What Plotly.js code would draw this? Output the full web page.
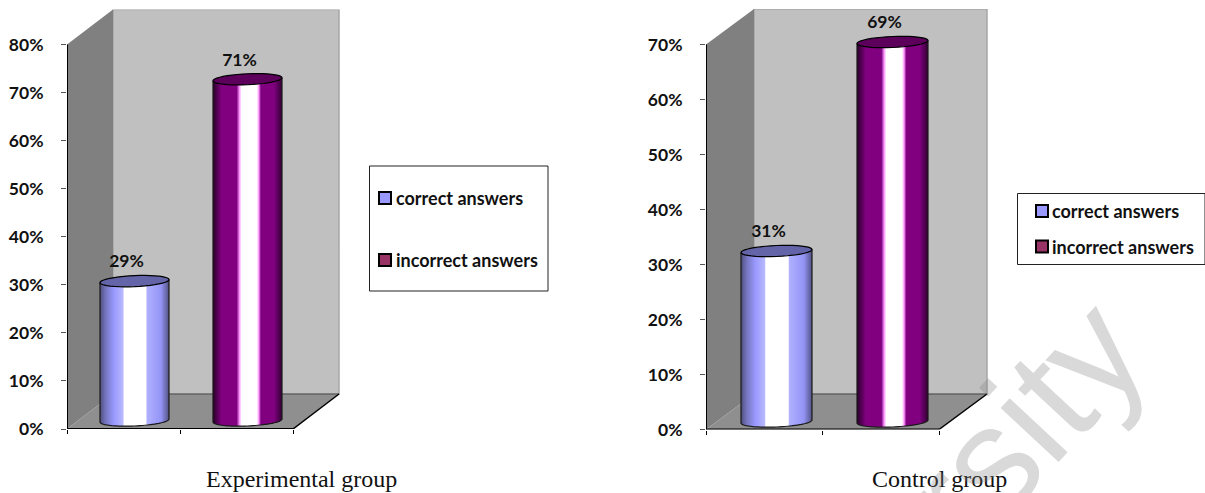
<!DOCTYPE html>
<html><head><meta charset="utf-8">
<script src="https://cdn.plot.ly/plotly-3.0.1.min.js"></script>
<style>html,body{margin:0;padding:0;background:#fff;overflow:hidden}</style>
</head><body><div id="chart" style="width:1205px;height:493px"></div>
<script>
// ---- data ----
const categories = ['correct answers', 'incorrect answers'];
const experimentalValues = [29, 71];
const controlValues = [31, 69];
const experimentalTicks = [0, 10, 20, 30, 40, 50, 60, 70, 80];
const controlTicks = [0, 10, 20, 30, 40, 50, 60, 70];
const captions = ['Experimental group', 'Control group'];
const watermark = 'rsity';

// ---- styles ----
const W = 1205, H = 493;
const boldFont = {family: 'Lato, sans-serif', size: 17.5, color: '#111111', weight: 700};
const legendFont = {family: 'Lato, sans-serif', size: 18, color: '#111111', weight: 700};
const seriesStyle = [
  {swatch: '#9999ff', top: '#6464a8',
   scale: [[0,'#505080'],[0.08,'#7676c0'],[0.2,'#9999ff'],[0.33,'#b8b8ff'],[0.345,'#ffffff'],[0.66,'#ffffff'],[0.68,'#b0b0ff'],[0.88,'#9494f6'],[1,'#505080']]},
  {swatch: '#993366', top: '#5c005c',
   scale: [[0,'#2a002a'],[0.12,'#800080'],[0.34,'#800080'],[0.38,'#ff99ff'],[0.41,'#ffffff'],[0.63,'#ffffff'],[0.66,'#ff99ff'],[0.69,'#800080'],[0.88,'#800080'],[1,'#300030']]}
];

function panel(o) {
  const xUnit = (o.frontRight - o.left) / 2;
  const yUnit = (o.zeroY - o.maxY) / o.axisMax;
  const depthX = (o.backX - o.left) / xUnit;
  const depthY = (o.zeroY - o.backY) / yUnit;
  const rangeX = [-0.5, -0.5 + (o.backRight - o.left) / xUnit];
  const rangeY = [0, o.axisMax + depthY];
  const xa = o.id === 1 ? 'x' : 'x2', ya = o.id === 1 ? 'y' : 'y2';
  const X0 = -0.5, X1 = 1.5, Ym = o.axisMax;
  const traces = [], below = [], above = [];
  const poly = (pts, fill, line, layer, w) => {
    const s = {type: 'path', xref: xa, yref: ya, layer: layer,
      path: 'M' + pts.map(p => p[0] + ',' + p[1]).join('L') + 'Z',
      fillcolor: fill, line: {color: line || 'rgba(0,0,0,0)', width: w === undefined ? 1 : w}};
    (layer === 'below' ? below : above).push(s);
  };
  poly([[X0+depthX,depthY],[X1+depthX,depthY],[X1+depthX,Ym+depthY],[X0+depthX,Ym+depthY]], '#c0c0c0', '#a6a6a6', 'below', 1.5);
  poly([[X0,0],[X0+depthX,depthY],[X0+depthX,Ym+depthY],[X0,Ym]], '#808080', null, 'below', 0);
  poly([[X0,0],[X1,0],[X1+depthX,depthY],[X0+depthX,depthY]], '#8f8f8f', null, 'below', 0);
  const seg = (a, b, c, w) => below.push({type: 'line', xref: xa, yref: ya, layer: 'below',
     x0: a[0], y0: a[1], x1: b[0], y1: b[1], line: {color: c, width: w}});
  seg([X0+depthX,depthY],[X1+depthX,depthY],'#4a4a4a',1);
  seg([X1,0],[X1+depthX,depthY],'#000000',1.5);
  seg([X0,0],[X1,0],'#000000',2);
  seg([X0,0],[X0,Ym],'#000000',2);

  const wid = o.barWidth / xUnit, b = o.ellH / yUnit, tilt = o.tilt / yUnit;
  o.values.forEach((v, i) => {
    const cx = (o.barCentre[i] - o.left) / xUnit - 0.5;
    const x0 = cx - wid / 2, x1 = cx + wid / 2;
    const base = o.barBase / yUnit, top = base + v;
    const nx = o.barWidth * 2, step = 0.5 / yUnit;
    const xs = [], ys = [], z = [];
    for (let k = 0; k <= nx; k++) xs.push(x0 + (x1 - x0) * k / nx);
    for (let y = base - b - 3 * step; y <= top + tilt + step; y += step) ys.push(y);
    for (let r = 0; r < ys.length - 1; r++) {
      const yc = (ys[r] + ys[r + 1]) / 2, row = [];
      for (let k = 0; k < nx; k++) {
        const f = (k + 0.5) / nx, u = 2 * f - 1;
        const low = base + tilt * u - b * Math.sqrt(1 - u * u);
        const high = top + tilt * u;
        row.push(yc >= low && yc <= high ? f : null);
      }
      z.push(row);
    }
    traces.push({type: 'heatmap', x: xs, y: ys, z: z, xaxis: xa, yaxis: ya, zmin: 0, zmax: 1, zauto: false,
      colorscale: seriesStyle[i].scale, showscale: false, hoverinfo: 'skip'});
    const a = (c, th) => [cx + wid / 2 * Math.cos(th), c + b * Math.sin(th) + tilt * Math.cos(th)];
    const lower = [], ell = [];
    for (let t = 0; t <= 40; t++) {
      lower.push(a(base, Math.PI + Math.PI * t / 40));
      ell.push(a(top, 2 * Math.PI * t / 40));
    }
    above.push({type: 'path', xref: xa, yref: ya, layer: 'above', line: {color: '#1a1a1a', width: 1.2},
      path: 'M' + a(top, Math.PI).join(',') + 'L' + lower.map(p => p.join(',')).join('L') + 'L' + a(top, 0).join(',')});
    poly(ell, seriesStyle[i].top, '#000000', 'above', 1.2);
  });
  traces.push({type: 'scatter', mode: 'text', xaxis: xa, yaxis: ya, hoverinfo: 'skip', showlegend: false,
    x: o.values.map((v, i) => (o.barCentre[i] - o.left) / xUnit - 0.5 - 8 / xUnit),
    y: o.values.map(v => o.barBase / yUnit + v + 18 / yUnit),
    text: o.values.map(v => v + '%'), textposition: 'middle center', textfont: boldFont, cliponaxis: false});
  const axes = {};
  axes[o.id === 1 ? 'xaxis' : 'xaxis2'] = {domain: [o.left / W, o.backRight / W], range: rangeX, anchor: ya,
    showgrid: false, zeroline: false, showline: false, tickmode: 'array', tickvals: [-0.5, 0.5, 1.5],
    ticktext: ['', '', ''], ticks: 'outside', ticklen: 4, tickwidth: 1, tickcolor: '#000000', fixedrange: true};
  axes[o.id === 1 ? 'yaxis' : 'yaxis2'] = {domain: [1 - o.zeroY / H, 1 - (o.zeroY - rangeY[1] * yUnit) / H], range: rangeY, anchor: xa,
    showgrid: false, zeroline: false, showline: false, tickmode: 'array', tickvals: o.ticks, ticktext: o.ticks.map(t => t + '%'),
    ticks: 'outside', ticklen: 5, tickwidth: 1, tickcolor: '#555555', ticklabelstandoff: 14, tickfont: boldFont, fixedrange: true};
  return {traces, below, above, axes};
}

const p1 = panel({id: 1, values: experimentalValues, ticks: experimentalTicks, axisMax: 80,
  left: 67, frontRight: 293, backX: 113, backRight: 340, zeroY: 429, maxY: 44.5, backY: 394,
  barCentre: [134.5, 247.5], barWidth: 69, barBase: 8.5, ellH: 5.5, tilt: 1.5});
const p2 = panel({id: 2, values: controlValues, ticks: controlTicks, axisMax: 70,
  left: 706, frontRight: 939, backX: 754, backRight: 988, zeroY: 429.5, maxY: 44.5, backY: 394,
  barCentre: [776.5, 892.5], barWidth: 71, barBase: 8, ellH: 5.5, tilt: 1.5});

const px = v => v / W, py = v => 1 - v / H;
const legendShapes = [], notes = [];
function legend(box, sw, txtX, rows) {
  legendShapes.push({type: 'rect', xref: 'paper', yref: 'paper', x0: px(box[0]), x1: px(box[1]), y0: py(box[2]), y1: py(box[3]),
    fillcolor: '#ffffff', line: {color: '#222222', width: 1}, layer: 'above'});
  categories.forEach((c, i) => {
    legendShapes.push({type: 'rect', xref: 'paper', yref: 'paper', x0: px(sw), x1: px(sw + 12), y0: py(rows[i] - 6), y1: py(rows[i] + 6),
      fillcolor: seriesStyle[i].swatch, line: {color: '#000000', width: 2}, layer: 'above'});
    notes.push({xref: 'paper', yref: 'paper', x: px(txtX), y: py(rows[i]), xanchor: 'left', yanchor: 'middle',
      showarrow: false, text: c, font: legendFont, borderpad: 0});
  });
}
legend([369.5, 548, 166, 291], 379, 395, [198, 260]);
legend([1017.5, 1205, 193.5, 264.5], 1036, 1051, [211, 246.5]);

[[301, captions[0]], [939, captions[1]]].forEach(c => notes.push({xref: 'paper', yref: 'paper', x: px(c[0]), y: py(479),
  xanchor: 'center', yanchor: 'middle', showarrow: false, text: c[1],
  font: {family: 'Liberation Serif, serif', size: 24, color: '#111111'}}));
notes.push({xref: 'paper', yref: 'paper', x: px(1022), y: py(425), xanchor: 'center', yanchor: 'middle', showarrow: false,
  text: watermark, textangle: -47, font: {family: 'Liberation Sans, sans-serif', size: 150, color: 'rgba(128,128,128,0.3)'}});

Plotly.newPlot('chart', [...p1.traces, ...p2.traces], Object.assign({
  width: W, height: H, margin: {l: 0, r: 0, t: 0, b: 0}, paper_bgcolor: '#ffffff', plot_bgcolor: 'rgba(0,0,0,0)',
  showlegend: false, shapes: [...p1.below, ...p2.below, ...p1.above, ...p2.above, ...legendShapes], annotations: notes
}, p1.axes, p2.axes), {displayModeBar: false, staticPlot: true});
</script></body></html>
